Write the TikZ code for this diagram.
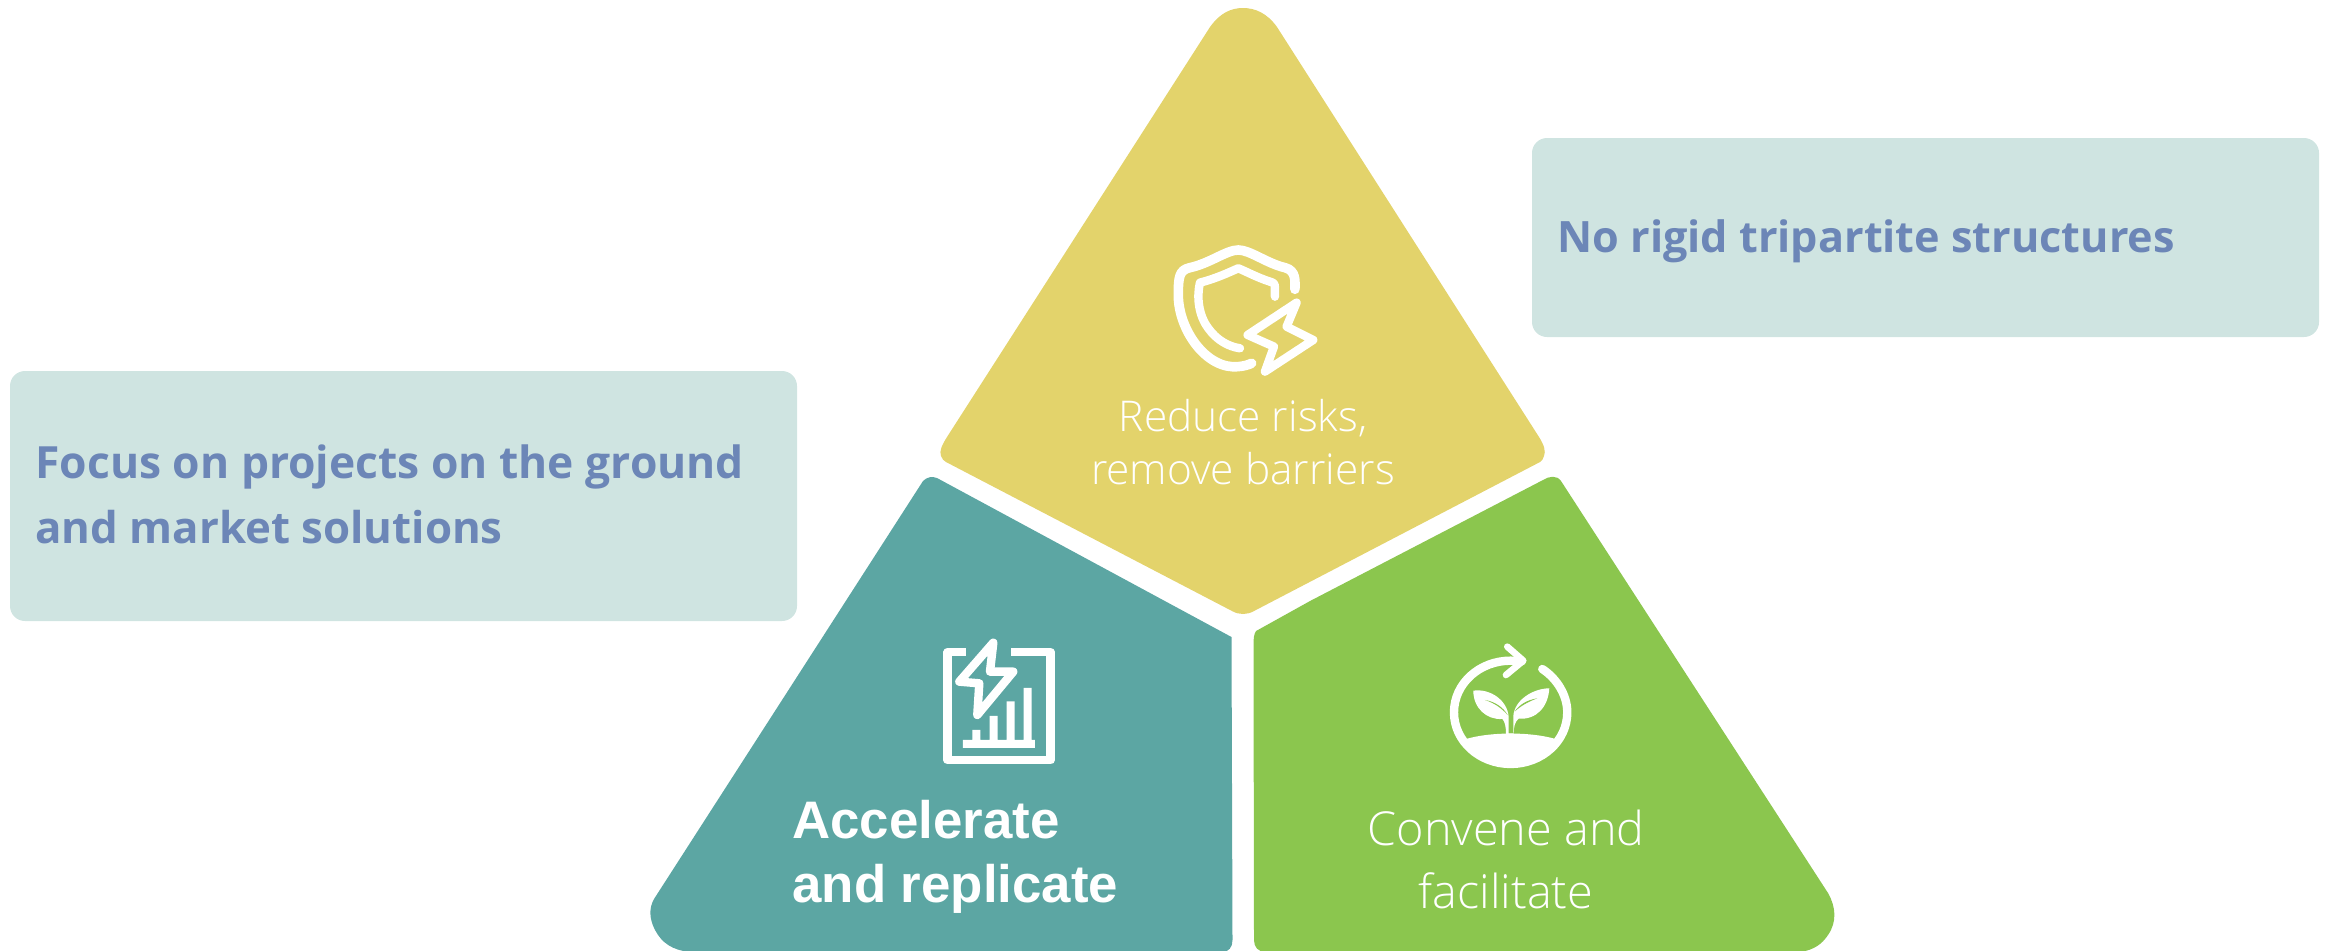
\documentclass[tikz,border=0pt]{standalone}
\usepackage{fontspec}
\setmainfont{Liberation Sans}
\newfontfamily\lightf{Open Sans Light}
\newfontfamily\boldf{Open Sans}[BoldFont={Open Sans Bold}]
\definecolor{cyel}{HTML}{E3D36B}
\definecolor{cteal}{HTML}{5CA6A3}
\definecolor{cgrn}{HTML}{8BC64E}
\definecolor{cbox}{HTML}{CFE4E1}
\definecolor{ctxt}{HTML}{6C86B7}
\newcommand{\boxfont}[1]{\boldf\bfseries\fontsize{#1}{26}\selectfont}
\newcommand{\lightfont}[1]{\lightf\fontsize{#1}{25}\selectfont}
\tikzset{
 infobox/.style={fill=cbox,rounded corners=7.5pt},
 boxtxt/.style={anchor=base west,text=ctxt,inner sep=0pt},
 lighttxt/.style={anchor=base,text=white,inner sep=0pt},
 boldtxt/.style={anchor=base west,text=white,inner sep=0pt,font=\bfseries\fontsize{26.4}{31}\selectfont},
 icon/.style={draw=white,line width=4.2pt,line cap=round,line join=round},
}
\begin{document}
\begin{tikzpicture}[x=0.5pt,y=-0.5pt]
\useasboundingbox (0,0) rectangle (2328,950);
\clip (0,0) rectangle (2328,950);
% boxes
\fill[infobox] (1532,138) rectangle (2319,337);
\fill[infobox] (10,371) rectangle (797,621);
% yellow
\fill[cyel] (1210,27) .. controls (1220,13) and (1231,8) .. (1243,8)
  .. controls (1255,8) and (1267,13) .. (1277,27)
  -- (1539,437) .. controls (1544,445) and (1546,451) .. (1544,456)
  .. controls (1543,459) and (1542,461) .. (1540,462)
  -- (1254,611) .. controls (1247,615) and (1239,615) .. (1232,611)
  -- (946,462) .. controls (944,461) and (942,459) .. (941,456)
  .. controls (939,451) and (942,445) .. (947,437) -- cycle;
% teal
\fill[cteal] (923,481) .. controls (927,477) and (932,476) .. (937,478)
  -- (1231.5,637) -- (1232.5,940) .. controls (1232.5,947) and (1229,952) .. (1222,952)
  -- (690,952) .. controls (672,950) and (662,943) .. (655,930)
  .. controls (649,918) and (649,908) .. (654,899) -- cycle;
% green
\fill[cgrn] (1543,480) .. controls (1549,476) and (1557,475) .. (1561,481)
  -- (1828,893) .. controls (1836,907) and (1837,922) .. (1828,935)
  .. controls (1822,944) and (1814,950) .. (1800,952)
  -- (1266,952) .. controls (1258,952) and (1254,947) .. (1254,940)
  -- (1253.5,645) .. controls (1253.5,638) and (1254,634) .. (1256,631)
  -- (1310,601) -- cycle;
% shield icon
\begin{scope}[shift={(1100,200)},x=0.1666pt,y=-0.1666pt,icon]
\draw[line width=4.8pt] (585,268) .. controls (585,245) and (590,212) .. (555,203)
  .. controls (500,190) and (450,150) .. (415,150)
  .. controls (380,150) and (330,190) .. (270,203)
  .. controls (238,210) and (235,230) .. (235,285)
  .. controls (235,390) and (320,510) .. (415,500) .. controls (430,499) and (445,495) .. (455,490);
\draw (525,290) -- (525,262) .. controls (525,250) and (520,248) .. (510,245)
  .. controls (470,232) and (440,215) .. (415,205)
  .. controls (385,218) and (350,235) .. (300,248)
  .. controls (290,290) and (295,345) .. (325,385)
  .. controls (350,420) and (385,440) .. (420,445);
\draw (590,308) -- (443,405) -- (522,440) -- (495,515) -- (640,420) -- (560,380) -- cycle;
\end{scope}
% chart icon
\begin{scope}[shift={(900,620)},x=0.1666pt,y=-0.1666pt,icon]
\draw[line cap=butt] (197,96) -- (143,96) -- (143,421) -- (452,421) -- (452,96) -- (332,96);
\draw (280,68) -- (178,185) -- (238,190) -- (232,285) -- (340,155) -- (270,155) -- cycle;
\fill[white,draw=none] (189,360) rectangle (405,384)
  (217,330) rectangle (241,360) (269,288) rectangle (293,360)
  (320,244) rectangle (344,360) (371,204) rectangle (395,360);
\end{scope}
% plant icon
\begin{scope}[shift={(1420,620)},x=0.1666pt,y=-0.1666pt,icon]
\draw (305,124) -- (272,122) .. controls (178,122) and (102,191) .. (102,277)
  .. controls (102,363) and (178,432) .. (272,432)
  .. controls (366,432) and (442,363) .. (442,277)
  .. controls (442,225) and (410,175) .. (367,147);
\draw[line width=3.3pt] (262,80) -- (310,122) -- (258,165);
\fill[white,draw=none] (135,358) .. controls (210,335) and (335,335) .. (410,358)
  .. controls (385,410) and (330,436) .. (272,436)
  .. controls (215,436) and (160,410) .. (135,358) -- cycle;
\fill[white,draw=none] (160,212) .. controls (210,205) and (262,240) .. (266,290)
  -- (266,340) -- (280,340) -- (280,290)
  .. controls (282,240) and (340,205) .. (388,205)
  .. controls (385,260) and (350,300) .. (296,296)
  .. controls (285,305) and (281,320) .. (281,342) -- (258,342)
  .. controls (258,320) and (255,305) .. (247,297)
  .. controls (200,300) and (160,265) .. (160,212) -- cycle;
\fill[cgrn,draw=none] (195,240) .. controls (225,245) and (250,262) .. (263,285)
  .. controls (245,265) and (225,250) .. (195,240) -- cycle;
\fill[cgrn,draw=none] (352,235) .. controls (320,240) and (297,255) .. (284,275)
  .. controls (302,258) and (325,245) .. (352,235) -- cycle;
\end{scope}
% texts
\node[lighttxt,font=\lightfont{21.2}] (t1) at (1243,431) {Reduce risks,};
\node[lighttxt,font=\lightfont{21.2}] (t2) at (1243,484) {remove barriers};
\node[boldtxt] (t3) at (792,838) {Accelerate};
\node[boldtxt] (t4) at (792,902) {and replicate};
\node[lighttxt,font=\lightfont{23.4}] (t5) at (1506,845) {Convene and};
\node[lighttxt,font=\lightfont{23.4}] (t6) at (1506,908) {facilitate};
\node[boxtxt,font=\boxfont{21.6}] (t7) at (1557,252) {No rigid tripartite structures};
\node[boxtxt,font=\boxfont{22.2}] (t8) at (35,478) {Focus on projects on the ground};
\node[boxtxt,font=\boxfont{21.9}] (t9) at (35,543) {and market solutions};
\end{tikzpicture}
\end{document}
